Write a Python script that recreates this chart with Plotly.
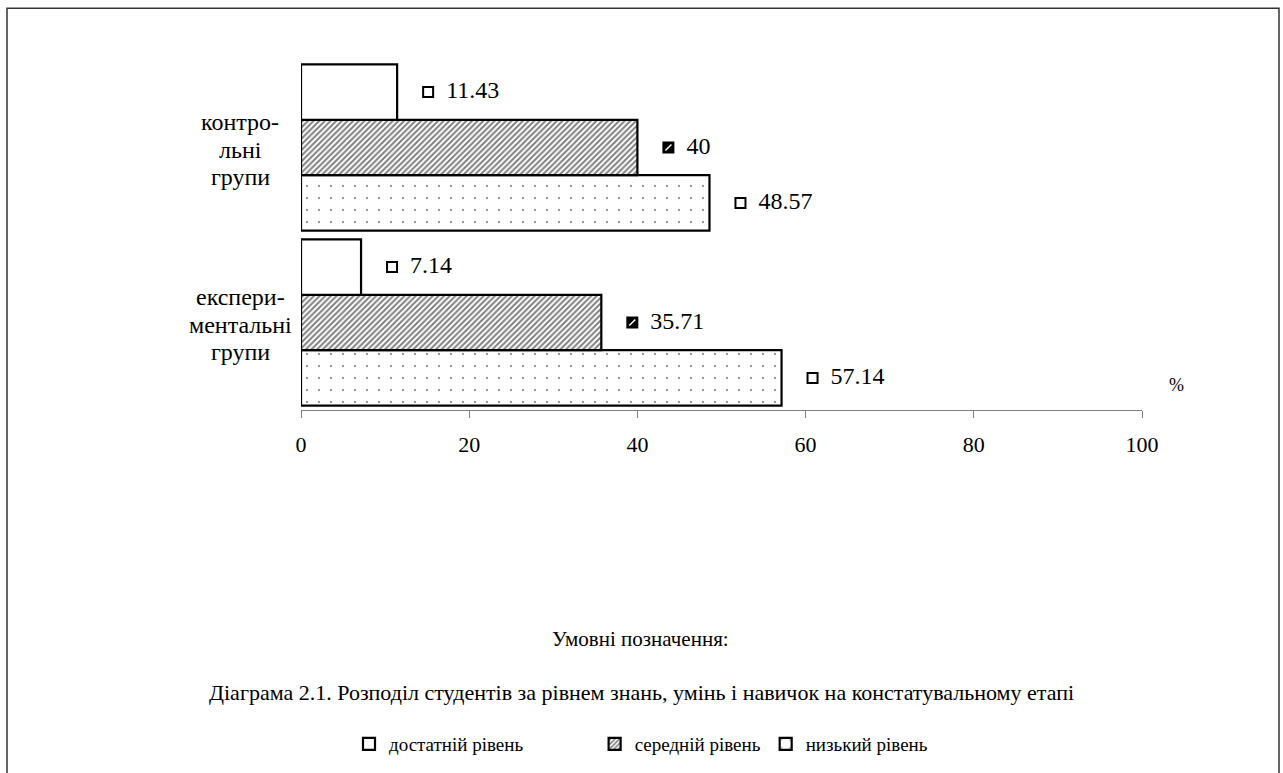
import plotly.graph_objects as go

# Groups (bottom to top) and knowledge levels
groups = [["експери-", "ментальні", "групи"], ["контро-", "льні", "групи"]]
levels = ["достатній рівень", "середній рівень", "низький рівень"]

# Percent of students per level, one value per group (experimental, control)
sufficient = [7.14, 11.43]
medium = [35.71, 40.0]
low = [57.14, 48.57]

x_ticks = [0, 20, 40, 60, 80, 100]

FONT = "'Liberation Serif', 'Times New Roman', serif"

W, H = 1283, 773
ML, MR, MT, MB = 301, 141, 60, 362
PW, PH = W - ML - MR, H - MT - MB
X_MAX = 100
UNIT = PW / X_MAX  # pixels per percent


def px_x(px):
    return (px - ML) / PW


def px_y(py):
    return (H - MB - py) / PH


fig = go.Figure()

ypos = list(range(len(groups)))
bar_line = dict(color="black", width=2.2)
NBSP = "\u00a0"

# Bars: first trace sits lowest inside each group
fig.add_trace(go.Bar(
    y=ypos, x=low, name=levels[2], orientation="h",
    marker=dict(color="white", line=bar_line,
                pattern=dict(shape=".", size=12, solidity=0.025, fgcolor="black", fillmode="overlay")),
))
fig.add_trace(go.Bar(
    y=ypos, x=medium, name=levels[1], orientation="h",
    marker=dict(color="white", line=bar_line,
                pattern=dict(shape="/", size=4, solidity=0.5, fgcolor="black", fillmode="overlay")),
))
fig.add_trace(go.Bar(
    y=ypos, x=sufficient, name=levels[0] + NBSP * 14, orientation="h",
    marker=dict(color="white", line=bar_line),
))

# Value labels: a small key square followed by the number
bargap = 0.05
bw = (1 - bargap) / 3
offsets = {"low": -bw, "medium": 0.0, "sufficient": bw}
key_shift = 31 / UNIT    # key square centre, right of the bar end
text_shift = 49 / UNIT   # start of the number


def fmt(v):
    return f"{v:g}"


series = [("low", low), ("medium", medium), ("sufficient", sufficient)]
for key, vals in series:
    fill = "black" if key == "medium" else "white"
    yy = [i + offsets[key] for i in ypos]
    fig.add_trace(go.Scatter(
        x=[v + key_shift for v in vals], y=yy, mode="markers",
        marker=dict(symbol="square", size=10, color=fill, line=dict(color="black", width=2)),
        showlegend=False, hoverinfo="skip", cliponaxis=False,
    ))
    if key == "medium":
        fig.add_trace(go.Scatter(
            x=[v + key_shift for v in vals], y=yy, mode="markers",
            marker=dict(symbol="line-ne", size=6, line=dict(color="white", width=1.5)),
            showlegend=False, hoverinfo="skip", cliponaxis=False,
        ))
    fig.add_trace(go.Scatter(
        x=[v + text_shift for v in vals], y=yy, mode="text",
        text=[fmt(v) for v in vals], textposition="middle right",
        textfont=dict(family=FONT, size=24, color="black"),
        showlegend=False, hoverinfo="skip", cliponaxis=False,
    ))

annotations = []
# Group names, centred lines left of the bars
LINE_H = 27.5
for i, lines in enumerate(groups):
    n = len(lines)
    for k, line in enumerate(lines):
        annotations.append(dict(
            x=px_x(240), xref="paper", y=i, yref="y", text=line, showarrow=False,
            xanchor="center", yanchor="middle",
            yshift=((n - 1) / 2 - k) * LINE_H - 2,
            font=dict(family=FONT, size=24, color="black"),
        ))

annotations += [
    dict(x=px_x(1176), y=px_y(386), xref="paper", yref="paper", text="%",
         xanchor="center", yanchor="middle",
         showarrow=False, font=dict(family=FONT, size=18, color="black")),
    dict(x=px_x(640), y=px_y(641), xref="paper", yref="paper", text="Умовні позначення:",
         xanchor="center", yanchor="middle",
         showarrow=False, font=dict(family=FONT, size=21, color="black")),
    dict(x=px_x(641), y=px_y(694), xref="paper", yref="paper",
         text="Діаграма 2.1. Розподіл студентів за рівнем знань, умінь і навичок на констатувальному етапі",
         xanchor="center", yanchor="middle",
         showarrow=False, font=dict(family=FONT, size=22, color="black")),
]

fig.update_layout(
    width=W, height=H,
    margin=dict(l=ML, r=MR, t=MT, b=MB, pad=0),
    paper_bgcolor="white", plot_bgcolor="white",
    barmode="group", bargap=bargap, bargroupgap=0,
    font=dict(family=FONT, color="black"),
    xaxis=dict(
        range=[0, X_MAX], tickvals=x_ticks, ticktext=[str(t) for t in x_ticks],
        showgrid=False, zeroline=False, showline=True, linecolor="#808080", linewidth=1,
        ticks="outside", ticklen=7, tickcolor="#808080", tickwidth=1,
        ticklabelstandoff=8,
        tickfont=dict(family=FONT, size=22, color="black"),
    ),
    yaxis=dict(range=[-0.5, 1.5], showgrid=False, zeroline=False, showline=False,
               showticklabels=False, ticks=""),
    showlegend=True,
    legend=dict(
        orientation="h", traceorder="reversed", x=px_x(641), xanchor="center",
        y=px_y(744), yanchor="middle", font=dict(family=FONT, size=19, color="black"),
        bgcolor="rgba(0,0,0,0)", itemwidth=30,
    ),
    annotations=annotations,
    shapes=[dict(
        type="rect", xref="paper", yref="paper",
        x0=px_x(7), x1=px_x(1279), y0=px_y(790), y1=px_y(8),
        line=dict(color="#333333", width=1.5), fillcolor="rgba(0,0,0,0)", layer="below",
    )],
)

fig.write_html("out.html")
